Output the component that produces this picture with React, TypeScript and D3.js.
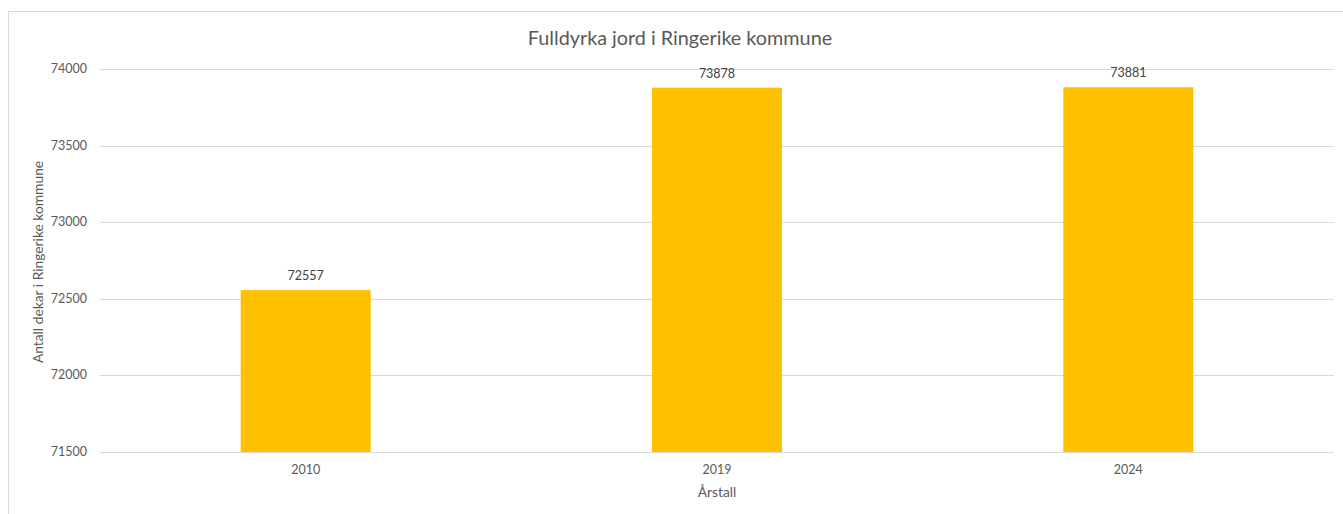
import React from "react";
import * as d3 from "d3";

const categories = ["2010", "2019", "2024"];
const values = [72557, 73878, 73881];
const yTicks = [71500, 72000, 72500, 73000, 73500, 74000];
const title = "Fulldyrka jord i Ringerike kommune";
const yTitle = "Antall dekar i Ringerike kommune";
const xTitle = "Årstall";

const W = 1343;
const H = 514;
const FONT = "Lato, 'Open Sans', sans-serif";

export default function App() {
  const left = 100;
  const right = 1334;
  const top = 69;
  const bottom = 452;
  const x = d3.scaleBand<string>().domain(categories).range([left, right]).paddingInner(0.684).paddingOuter(0.342);
  const y = d3.scaleLinear().domain([71500, 74000]).range([bottom, top]);
  return (
    <svg width={W} height={H} style={{ position: "absolute", left: 0, top: 0, background: "#fff" }}>
      <rect x={8.5} y={11.5} width={W + 10} height={H + 10} fill="#fff" stroke="#d9d9d9" strokeWidth={1} />
      <text x={680} y={45} textAnchor="middle" fontFamily={FONT} fontSize={19.8} fill="#595959">{title}</text>
      {yTicks.map((t) => (
        <g key={t}>
          <line x1={left} x2={right} y1={Math.round(y(t)) + 0.5} y2={Math.round(y(t)) + 0.5} stroke="#d9d9d9" strokeWidth={1} />
          <text x={87} y={y(t) + 4} textAnchor="end" fontFamily={FONT} fontSize={12.5} fill="#595959">{t}</text>
        </g>
      ))}
      {categories.map((c, i) => (
        <g key={c}>
          <rect x={x(c)} y={y(values[i])} width={x.bandwidth()} height={bottom - y(values[i])} fill="#ffc000" />
          <text x={(x(c) as number) + x.bandwidth() / 2} y={y(values[i]) - 10} textAnchor="middle" fontFamily={FONT} fontSize={12.5} fill="#404040">{values[i]}</text>
          <text x={(x(c) as number) + x.bandwidth() / 2} y={474} textAnchor="middle" fontFamily={FONT} fontSize={12.5} fill="#595959">{c}</text>
        </g>
      ))}
      <text x={717} y={497} textAnchor="middle" fontFamily={FONT} fontSize={13.8} fill="#595959">{xTitle}</text>
      <text transform={`translate(43, 262) rotate(-90)`} textAnchor="middle" fontFamily={FONT} fontSize={13.8} fill="#595959">{yTitle}</text>
    </svg>
  );
}
